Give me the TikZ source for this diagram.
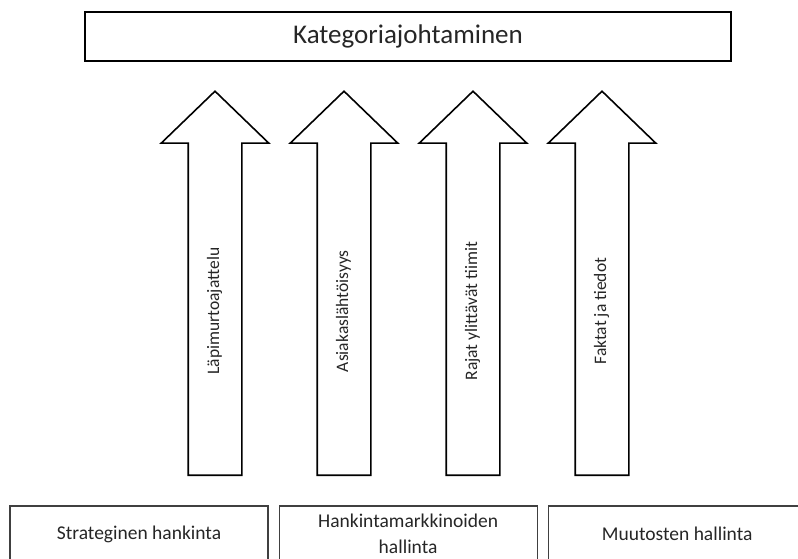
\documentclass[tikz,border=0pt]{standalone}
\usepackage{fontspec}
\setmainfont{Carlito}
\usetikzlibrary{shapes.arrows,positioning}
\begin{document}
\begin{tikzpicture}[x=1pt,y=-1pt]

	\tikzstyle{header}=[rectangle,
		draw=black,line width=2pt,
		minimum width=646pt,minimum height=49pt,inner sep=0pt,
		font=\fontsize{27}{32}\selectfont,text=black!85]
	\tikzstyle{pillar}=[single arrow,
		draw=black,line width=1.6pt,rotate=90,anchor=tail,
		single arrow tip angle=92,single arrow head indent=0pt,
		single arrow head extend=27pt,minimum height=384pt,
		inner xsep=4pt,inner ysep=18pt,text height=12pt,text depth=4pt,
		font=\fontsize{17.5}{20}\selectfont,text=black!85]
	\tikzstyle{base}=[rectangle,
		draw=black!75,line width=1.1pt,
		minimum width=258pt,minimum height=56pt,inner sep=0pt,
		align=center,font=\fontsize{19.5}{26}\selectfont,text=black!85,
		node distance=10pt]

	\useasboundingbox (0,0) rectangle (798,558);
	\clip (0,0) rectangle (798,558);

	\node[header]	(kat)	at (408,36.5)	{Kategoriajohtaminen};

	\node[pillar]	(lapi)	at (215,476)	{Läpimurtoajattelu\hspace*{30pt}};
	\node[pillar]	(asiak)	at (344,476)	{Asiakaslähtöisyys\hspace*{30pt}};
	\node[pillar]	(rajat)	at (473,476)	{Rajat ylittävät tiimit\hspace*{30pt}};
	\node[pillar]	(faktat)	at (602,476)	{Faktat ja tiedot\hspace*{30pt}};

	\node[base]	(strat)	at (139,534)	{Strateginen hankinta};
	\node[base,right=of strat]	(markk)	{Hankintamarkkinoiden\\ hallinta};
	\node[base,right=of markk]	(muut)	{Muutosten hallinta};

\end{tikzpicture}
\end{document}
